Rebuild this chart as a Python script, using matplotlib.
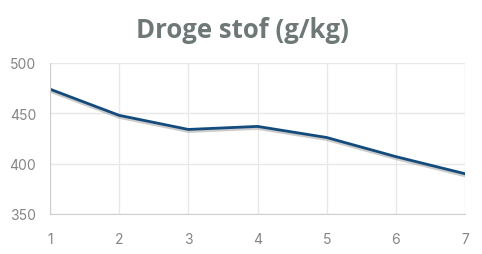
import matplotlib.pyplot as plt
import matplotlib.patheffects as pe

days = [1, 2, 3, 4, 5, 6, 7]
droge_stof = [474, 448, 434, 437, 426, 407, 390]
y_ticks = [350, 400, 450, 500]

fig = plt.figure(figsize=(4.82, 2.55), dpi=100)
ax = fig.add_axes([50 / 482, 40 / 255, 415 / 482, 151 / 255])

ax.plot(days, droge_stof, color='#124b7c', linewidth=2.0, solid_joinstyle='round',
        path_effects=[pe.SimpleLineShadow(offset=(0, -1.5), shadow_color='#999999', alpha=0.5),
                      pe.Normal()])

ax.set_xlim(1, 7)
ax.set_ylim(350, 500)
ax.set_xticks(days)
ax.set_yticks(y_ticks)
ax.grid(True, color='#e8e8e8', linewidth=1)
ax.set_axisbelow(True)
for side in ['top', 'right']:
  ax.spines[side].set_visible(False)
for side in ['left', 'bottom']:
  ax.spines[side].set_color('#cfcfcf')
ax.tick_params(length=0, labelsize=10, labelcolor='#858585')
ax.tick_params(axis='x', pad=13)
ax.tick_params(axis='y', pad=10)
for lab in ax.get_xticklabels() + ax.get_yticklabels():
  lab.set_family('Inter')

fig.text(0.502, 1 - 31 / 255, 'Droge stof (g/kg)', ha='center', va='center',
         fontsize=18.5, fontweight='bold', color='#6e7877', family='Open Sans')

fig.savefig('out.png', dpi=100)
